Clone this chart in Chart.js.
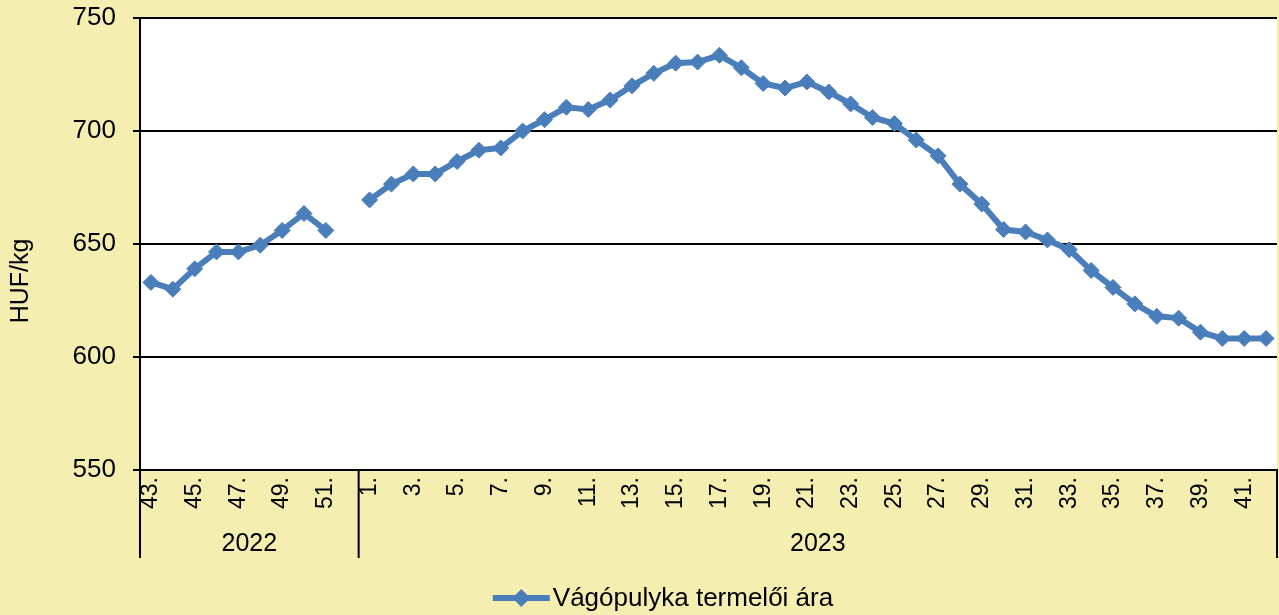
<!DOCTYPE html>
<html lang="hu">
<head>
<meta charset="UTF-8">
<title>Vágópulyka termelői ára</title>
<script src="https://cdn.jsdelivr.net/npm/chart.js"></script>
<style>
  html, body { margin: 0; padding: 0; background: #F4EEB1; }
  #wrap { width: 1279px; height: 615px; }
</style>
</head>
<body>
<div id="wrap"><canvas id="priceChart" width="1279" height="615"></canvas></div>
<script>
// Adatok
var years = ['2022', '2023'];
var weeks2022 = [43, 44, 45, 46, 47, 48, 49, 50, 51, 52];
var weeks2023 = [1, 2, 3, 4, 5, 6, 7, 8, 9, 10, 11, 12, 13, 14, 15, 16, 17, 18, 19, 20, 21,
                 22, 23, 24, 25, 26, 27, 28, 29, 30, 31, 32, 33, 34, 35, 36, 37, 38, 39, 40, 41, 42];
var prices2022 = [633, 630, 639, 646.5, 646.5, 649.5, 656, 663.5, 656, null];
var prices2023 = [669.5, 676.5, 681, 681, 686.5, 691.5, 692.5, 700, 705, 710.5, 709.5, 713.7,
                  720, 725.5, 730, 730.5, 733.5, 728, 721, 719, 721.7, 717.3, 712, 706, 703.3,
                  696, 689, 676.5, 667.7, 656.4, 655.3, 651.8, 647.5, 638.3, 630.8, 623.5,
                  618, 617.2, 611, 608.2, 608.2, 608.2];
var seriesName = 'Vágópulyka termelői ára';
var yTitle = 'HUF/kg';
var yMin = 550, yMax = 750, yStep = 50;

var labels = weeks2022.concat(weeks2023).map(function (w) { return w + '.'; });
var weekNums = weeks2022.concat(weeks2023);
var prices = prices2022.concat(prices2023);
var groups = [
    { name: years[0], count: weeks2022.length },
    { name: years[1], count: weeks2023.length }
];

var FONT = "'Liberation Sans', Arial, sans-serif";
var BLUE = '#4A7EBB';

// háttér: sárga vászon, fehér rajzterület
var backgroundPlugin = {
    id: 'bg',
    beforeDraw: function (chart) {
        var ctx = chart.ctx, a = chart.chartArea;
        ctx.save();
        ctx.fillStyle = '#F4EEB1';
        ctx.fillRect(0, 0, chart.width, chart.height);
        ctx.fillStyle = '#FFFFFF';
        ctx.fillRect(a.left, a.top, a.right - a.left, a.bottom - a.top);
        ctx.restore();
    }
};

// évek csoportosítása az x tengely alatt, tengelycím, jelmagyarázat
var extrasPlugin = {
    id: 'extras',
    afterDraw: function (chart) {
        var ctx = chart.ctx, a = chart.chartArea, x = chart.scales.x;
        var half = (x.getPixelForValue(1) - x.getPixelForValue(0)) / 2;
        ctx.save();
        ctx.strokeStyle = '#000';
        ctx.lineWidth = 2;
        ctx.fillStyle = '#000';
        ctx.font = '25px ' + FONT;
        ctx.textAlign = 'center';
        ctx.textBaseline = 'middle';
        var start = 0;
        groups.forEach(function (g, i) {
            var left = x.getPixelForValue(start) - half;
            var right = x.getPixelForValue(start + g.count - 1) + half;
            if (i === 0) {
                ctx.beginPath();
                ctx.moveTo(left, a.bottom);
                ctx.lineTo(left, a.bottom + 88);
                ctx.stroke();
            }
            ctx.beginPath();
            ctx.moveTo(right, a.bottom);
            ctx.lineTo(right, a.bottom + 88);
            ctx.stroke();
            ctx.fillText(g.name, (left + right) / 2, a.bottom + 74);
            start += g.count;
        });

        // y tengely címe
        ctx.save();
        ctx.translate(21, 281);
        ctx.rotate(-Math.PI / 2);
        ctx.fillText(yTitle, 0, 0);
        ctx.restore();

        // jelmagyarázat
        ctx.font = '26px ' + FONT;
        ctx.textAlign = 'left';
        var tw = ctx.measureText(seriesName).width;
        var total = 60 + tw;
        var lx = 663 - total / 2, ly = 598;
        ctx.strokeStyle = BLUE;
        ctx.lineWidth = 6;
        ctx.beginPath();
        ctx.moveTo(lx, ly);
        ctx.lineTo(lx + 57, ly);
        ctx.stroke();
        ctx.fillStyle = BLUE;
        ctx.beginPath();
        ctx.moveTo(lx + 28.5, ly - 9);
        ctx.lineTo(lx + 37.5, ly);
        ctx.lineTo(lx + 28.5, ly + 9);
        ctx.lineTo(lx + 19.5, ly);
        ctx.closePath();
        ctx.fill();
        ctx.fillStyle = '#000';
        ctx.fillText(seriesName, lx + 60, ly + 1);
        ctx.restore();
    }
};

var ctx = document.getElementById('priceChart').getContext('2d');
var priceChart = new Chart(ctx, {
    type: 'line',
    data: {
        labels: labels,
        datasets: [{
            label: seriesName,
            data: prices,
            borderColor: BLUE,
            backgroundColor: BLUE,
            borderWidth: 6,
            pointStyle: 'rectRot',
            pointRadius: 8,
            pointHoverRadius: 8,
            pointBackgroundColor: BLUE,
            pointBorderColor: BLUE,
            pointBorderWidth: 1,
            spanGaps: false,
            tension: 0
        }]
    },
    options: {
        responsive: false,
        animation: false,
        layout: { autoPadding: false, padding: { top: 18, right: 2, left: 0, bottom: 0 } },
        plugins: {
            legend: { display: false },
            tooltip: { enabled: false }
        },
        scales: {
            x: {
                offset: true,
                grid: { display: false, drawTicks: false },
                border: { display: true, color: '#000', width: 2 },
                ticks: {
                    autoSkip: false,
                    maxRotation: 90,
                    minRotation: 90,
                    padding: 7,
                    color: '#000',
                    font: { family: FONT, size: 23 },
                    callback: function (v, i) {
                        return weekNums[i] % 2 === 1 ? labels[i] : '';
                    }
                },
                afterFit: function (scale) {
                    scale.height = 145;
                    scale.paddingLeft = 0;
                    scale.paddingRight = 0;
                }
            },
            y: {
                min: yMin,
                max: yMax,
                grid: { color: '#000', lineWidth: 2, tickLength: 7, drawTicks: true },
                border: { display: true, color: '#000', width: 2 },
                ticks: {
                    stepSize: yStep,
                    padding: 17,
                    color: '#000',
                    font: { family: FONT, size: 26 }
                },
                afterFit: function (scale) {
                    scale.width = 140;
                    scale.paddingTop = 0;
                    scale.paddingBottom = 0;
                }
            }
        }
    },
    plugins: [backgroundPlugin, extrasPlugin]
});
</script>
</body>
</html>
